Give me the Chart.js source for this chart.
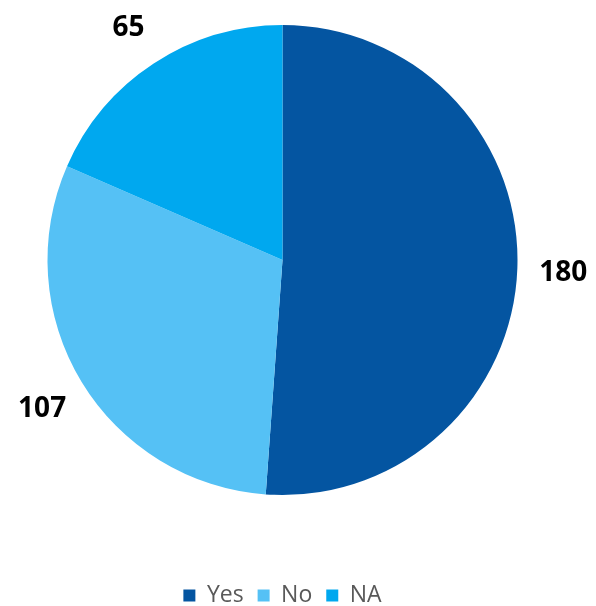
<!DOCTYPE html>
<html>
<head>
<meta charset="utf-8">
<script src="https://cdn.jsdelivr.net/npm/chart.js@4"></script>
<style>
html,body{margin:0;padding:0;background:#fff;overflow:hidden;}
#wrap{width:596px;height:606px;position:relative;}
</style>
</head>
<body>
<div id="wrap"><canvas id="c"></canvas></div>
<script>
const categories = ['Yes', 'No', 'NA'];
const values = [180, 107, 65];
const colors = ['#0455A1', '#55C1F5', '#00A8EF'];

const outerLabels = {
  id: 'outerLabels',
  afterDatasetsDraw(chart) {
    const ctx = chart.ctx;
    const meta = chart.getDatasetMeta(0);
    ctx.save();
    ctx.font = 'bold 28px "Open Sans", "Liberation Sans", sans-serif';
    ctx.fillStyle = '#000';
    ctx.textAlign = 'center';
    ctx.textBaseline = 'middle';
    meta.data.forEach((arc, i) => {
      const p = arc.getProps(['x', 'y', 'startAngle', 'endAngle', 'outerRadius'], true);
      const mid = (p.startAngle + p.endAngle) / 2;
      const r = p.outerRadius + 46;
      ctx.fillText(String(values[i]), p.x + Math.cos(mid) * r, p.y + Math.sin(mid) * r + 3);
    });
    ctx.restore();
  }
};

const moveLegend = {
  id: 'moveLegend',
  afterLayout(chart) {
    const lg = chart.legend;
    if (lg) {
      const shift = 617 - lg.bottom;
      lg.top += shift;
      lg.bottom += shift;
    }
  }
};

new Chart(document.getElementById('c'), {
  type: 'pie',
  data: {
    labels: categories,
    datasets: [{
      data: values,
      backgroundColor: colors,
      borderWidth: 0
    }]
  },
  options: {
    responsive: true,
    maintainAspectRatio: false,
    animation: false,
    layout: { padding: { left: 47, right: 78, top: 25, bottom: 64 } },
    plugins: {
      tooltip: { enabled: false },
      legend: {
        position: 'bottom',
        labels: {
          boxWidth: 12,
          boxHeight: 12,
          padding: 14,
          color: '#595959',
          font: { size: 23, family: '"Open Sans", "Liberation Sans", sans-serif' }
        }
      }
    }
  },
  plugins: [outerLabels, moveLegend]
});
</script>
</body>
</html>
